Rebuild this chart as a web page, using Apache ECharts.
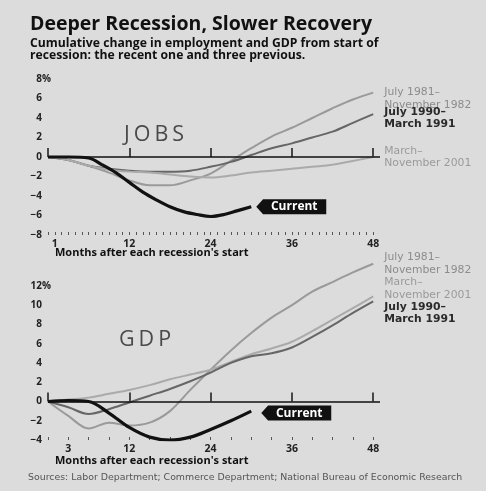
<!DOCTYPE html>
<html><head><meta charset="utf-8">
<script src="https://cdn.jsdelivr.net/npm/echarts@6/dist/echarts.min.js"></script>
<style>html,body{margin:0;padding:0;background:#dcdcdc}#c{width:486px;height:491px}</style>
</head><body><div id="c"></div>
<script>
// ---- data (cumulative % change from start of recession) ----
const jobMonths = [0,3,6,9,12,15,18,21,24,27,30,33,36,39,42,45,48];
const jobs1981 = [0,-0.3,-0.9,-1.6,-2.4,-2.9,-2.9,-2.4,-1.7,-0.4,0.9,2.1,3.0,4.0,5.0,5.9,6.6];
const jobs1990 = [0,-0.3,-0.9,-1.2,-1.4,-1.5,-1.5,-1.4,-1.0,-0.5,0.2,0.9,1.4,2.0,2.6,3.5,4.4];
const jobs2001 = [0,-0.3,-0.9,-1.3,-1.5,-1.6,-1.8,-2.0,-2.1,-1.9,-1.6,-1.4,-1.2,-1.0,-0.8,-0.4,0];
const jobsCurMonths = [0,3,6,8,10,12,14,16,18,20,22,24,26,28,30];
const jobsCurrent = [0,0,-0.1,-0.8,-1.6,-2.6,-3.6,-4.4,-5.1,-5.6,-5.9,-6.1,-5.9,-5.5,-5.1];

const gdpMonths = [0,3,6,9,12,15,18,21,24,27,30,33,36,39,42,45,48];
const gdp1981 = [0,-1.5,-2.8,-2.2,-2.5,-2.2,-1.0,1.2,3.3,5.3,7.1,8.7,10.0,11.4,12.4,13.4,14.3];
const gdp1990 = [0,-0.6,-1.3,-0.8,-0.1,0.6,1.3,2.1,3.0,4.0,4.7,5.0,5.6,6.7,7.9,9.2,10.4];
const gdp2001 = [0,0.2,0.4,0.8,1.2,1.7,2.3,2.8,3.3,4.1,4.9,5.5,6.2,7.3,8.5,9.7,10.9];
const gdpCurMonths = [0,3,6,9,12,15,18,21,24,27,30];
const gdpCurrent = [0,0.1,0,-1.2,-2.7,-3.7,-4.0,-3.7,-2.9,-2.0,-1.0];

const jobsXLabels = [1,12,24,36,48];
const gdpXLabels = [3,12,24,36,48];
const majorTicks = [0,12,24,36,48];
const jobsMinorTicks = Array.from({length:49},(_,i)=>i);
const gdpMinorTicks = Array.from({length:17},(_,i)=>i*3);
const jobsYLabels = [-8,-6,-4,-2,0,2,4,6,8];
const gdpYLabels = [-4,-2,0,2,4,6,8,10,12];

const names = {
  r81: 'July 1981–\nNovember 1982',
  r90: 'July 1990–\nMarch 1991',
  r01: 'March–\nNovember 2001'
};

// ---- helpers ----
const FONT = '"Open Sans", "DejaVu Sans", sans-serif';
const WIDE = '"DejaVu Sans", sans-serif';
const pair = (xs, ys) => xs.map((x,i)=>[x, ys[i]]);
const fmtY = (top) => (v) => {
  const s = (v < 0 ? '−' + Math.abs(v) : String(v));
  return '{n|' + s + '}' + (v === top ? '{p|%}' : '{h|%}');
};
function yAxis(gi, min, max, labels, top){
  const base = {fontFamily:FONT,fontWeight:'bold',fontSize:10,color:'#222'};
  return {
    type:'value', gridIndex:gi, min, max, interval:2,
    axisLine:{show:false}, axisTick:{show:false}, splitLine:{show:false},
    axisLabel:{customValues:labels, formatter:fmtY(top), margin:-3,
      rich:{n:base, p:base, h:Object.assign({}, base, {color:'rgba(0,0,0,0)'})}}
  };
}
function xMain(gi, labels){
  return {
    type:'value', gridIndex:gi, min:0, max:49, interval:12, position:'bottom',
    axisLine:{show:false}, splitLine:{show:false},
    axisTick:{show:true, customValues:majorTicks, inside:true, length:9, lineStyle:{color:'#222', width:1.6}},
    axisLabel:{customValues:labels, margin:4, fontFamily:FONT, fontWeight:'bold', fontSize:10.5, color:'#222'}
  };
}
function xMinor(gi, ticks){
  return {
    type:'value', gridIndex:gi, min:0, max:49, interval:12, position:'bottom',
    axisLine:{show:false}, splitLine:{show:false}, axisLabel:{show:false},
    axisTick:{show:true, customValues:ticks, inside:true, length:3, lineStyle:{color:'#555', width:1}}
  };
}
function gray(name, xi, yi, data, color, width, labelColor, off, bold){
  return {
    type:'line', xAxisIndex:xi, yAxisIndex:yi, data, smooth:0.35, symbol:'none',
    lineStyle:{color, width}, z:2,
    endLabel:{show:true, formatter:name, color:labelColor, fontFamily:WIDE, fontSize:10.8,
      fontWeight: bold ? 'bold':'normal', lineHeight:12.5, distance:11, offset:off}
  };
}
function current(xi, yi, xs, ys, off){
  return {
    type:'line', xAxisIndex:xi, yAxisIndex:yi, data:pair(xs,ys), smooth:0.35, symbol:'none',
    lineStyle:{color:'#111', width:3.2}, z:5,
    markLine:{silent:true, symbol:'none', label:{show:false},
      lineStyle:{color:'#111', width:1.6, type:'solid'}, data:[{yAxis:0}]},
    markPoint:{
      data:[{coord:[xs[xs.length-1], ys[ys.length-1]]}],
      symbol:'path://M0,7 L7,0 L72,0 L72,14 L7,14 Z', symbolKeepAspect:false,
      symbolSize:[70,15], symbolOffset:off, itemStyle:{color:'#111'},
      label:{show:true, position:'inside', formatter:'Current', color:'#fff', fontFamily:FONT,
        fontWeight:'bold', fontSize:12, offset:[3,0]}
    }
  };
}
const bigLetters = (w) => w.split('').map(c => '{a|' + c + '}').join('');
const bigRich = {a:{fontFamily:FONT, fontWeight:'normal', fontSize:21.5, color:'#4a4a4a', padding:[0,2]}};

const chart = echarts.init(document.getElementById('c'), null, {renderer:'canvas'});
chart.setOption({
  backgroundColor:'#dcdcdc',
  animation:false,
  title:[
    {text:'Deeper Recession, Slower Recovery', left:30, top:14, padding:0,
      textStyle:{fontFamily:FONT, fontWeight:'bold', fontSize:19.5, color:'#111'}},
    {text:'Cumulative change in employment and GDP from start of\nrecession: the recent one and three previous.',
      left:30, top:38, padding:0, textStyle:{fontFamily:FONT, fontWeight:'bold', fontSize:12.2, lineHeight:11.5, color:'#111'}},
    {text:bigLetters('JOBS'), left:154, top:124, padding:0, textAlign:'center',
      textStyle:{rich:bigRich}},
    {text:bigLetters('GDP'), left:145, top:329, padding:0, textAlign:'center',
      textStyle:{rich:bigRich}},
    {text:"Months after each recession's start", left:55, top:247, padding:0,
      textStyle:{fontFamily:FONT, fontWeight:'bold', fontSize:11, color:'#111'}},
    {text:"Months after each recession's start", left:55, top:455, padding:0,
      textStyle:{fontFamily:FONT, fontWeight:'bold', fontSize:11, color:'#111'}},
    {text:'Sources: Labor Department; Commerce Department; National Bureau of Economic Research',
      left:28, top:473, padding:0, textStyle:{fontFamily:WIDE, fontWeight:'normal', fontSize:9.4, color:'#555'}}
  ],
  grid:[
    {left:48, top:79, width:332, height:156},
    {left:48, top:257, width:332, height:183}
  ],
  xAxis:[ xMain(0, jobsXLabels), xMinor(0, jobsMinorTicks), xMain(1, gdpXLabels), xMinor(1, gdpMinorTicks) ],
  yAxis:[ yAxis(0,-8,8,jobsYLabels,8), yAxis(1,-4,15,gdpYLabels,12) ],
  series:[
    gray(names.r81, 0, 0, pair(jobMonths, jobs1981), '#9a9a9a', 2, '#8c8c8c', [0,6], false),
    gray(names.r90, 0, 0, pair(jobMonths, jobs1990), '#666', 2, '#2a2a2a', [0,4], true),
    gray(names.r01, 0, 0, pair(jobMonths, jobs2001), '#aaa', 2, '#9a9a9a', [0,0], false),
    current(0, 0, jobsCurMonths, jobsCurrent, [40,0]),
    gray(names.r81, 2, 1, pair(gdpMonths, gdp1981), '#9a9a9a', 2, '#8c8c8c', [0,0], false),
    gray(names.r01, 2, 1, pair(gdpMonths, gdp2001), '#aaa', 2, '#9a9a9a', [0,-8], false),
    gray(names.r90, 2, 1, pair(gdpMonths, gdp1990), '#666', 2, '#2a2a2a', [0,12], true),
    current(2, 1, gdpCurMonths, gdpCurrent, [45,2])
  ]
});
</script>
</body></html>
